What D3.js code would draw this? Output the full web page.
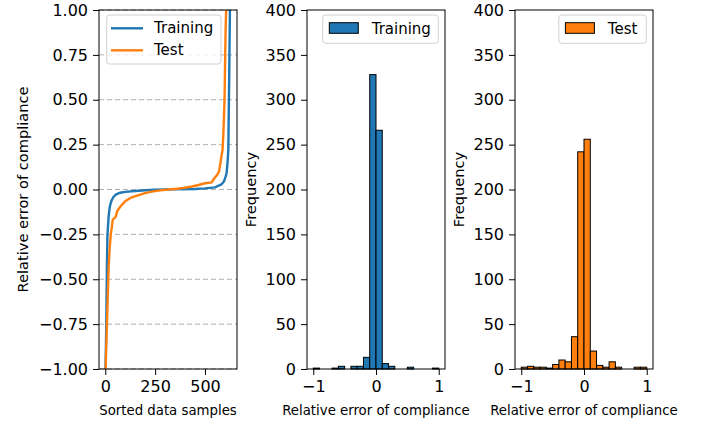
<!DOCTYPE html>
<html><head><meta charset="utf-8">
<script src="https://cdn.jsdelivr.net/npm/d3@7"></script>
<style>
body{margin:0;background:#fff;}
svg{display:block;font-family:"DejaVu Sans",sans-serif;}
</style></head>
<body><svg id="c" width="701" height="424"></svg>
<script>
// ---- data ----
const trainIdx = [0, 2, 5, 8, 11, 14, 17, 22, 27, 32, 37, 42, 55, 75, 100, 150, 200, 250, 350, 450, 500, 550, 583, 595, 603, 608, 613, 617, 620, 623, 625, 629];
const trainErr = [-1.05, -0.95, -0.76, -0.45, -0.25, -0.2, -0.15, -0.1, -0.077, -0.06, -0.05, -0.04, -0.027, -0.018, -0.013, -0.008, -0.004, -0.001, 0.001, 0.003, 0.006, 0.012, 0.029, 0.045, 0.07, 0.09, 0.15, 0.22, 0.5, 0.8, 1.0, 1.4];
const testIdx = [0, 2, 7, 12, 17, 22, 28, 33, 37, 53, 60, 75, 100, 130, 167, 200, 233, 275, 317, 360, 400, 435, 467, 500, 533, 545, 560, 570, 578, 583, 588, 592, 598, 603, 606, 607];
const testErr = [-1.05, -0.99, -0.8, -0.616, -0.43, -0.33, -0.244, -0.21, -0.17, -0.15, -0.12, -0.096, -0.065, -0.045, -0.031, -0.02, -0.012, -0.005, 0.0, 0.004, 0.01, 0.017, 0.025, 0.035, 0.04, 0.06, 0.08, 0.1, 0.15, 0.19, 0.22, 0.31, 0.5, 0.87, 1.0, 1.3];
const binStarts = [-1.0, -0.9, -0.8, -0.7, -0.6, -0.5, -0.4, -0.3, -0.2, -0.1, 0.0, 0.1, 0.2, 0.3, 0.4, 0.5, 0.6, 0.7, 0.8, 0.9];
const binWidth = 0.1;
const trainCounts = [1, 0, 0, 1, 3, 0, 3, 3, 13, 328, 266, 6, 3, 0, 0, 2, 0, 0, 0, 1];
const testCounts = [2, 3, 2, 2, 1, 5, 10, 8, 36, 242, 256, 20, 4, 2, 8, 2, 0, 0, 2, 2];
const lineTicksX = [0, 250, 500];
const lineTicksY = [-1, -0.75, -0.5, -0.25, 0, 0.25, 0.5, 0.75, 1];
const histTicksX = [-1, 0, 1];
const histTicksY = [0, 50, 100, 150, 200, 250, 300, 350, 400];
const seriesNames = ["Training", "Test"];
const colors = ["#1f77b4", "#ff7f0e"];

const svg = d3.select("#c");
const yTop = 10, yBot = 369;
const TICKF = "16px", LEGF = "15px", XLF = "13.3px", YLF = "14.6px";

function styleAxis(g){
  g.select(".domain").remove();
  g.selectAll(".tick line").attr("stroke","#000").attr("stroke-width",1);
  g.selectAll(".tick text").attr("fill","#000").style("font-size",TICKF).style("font-family","DejaVu Sans");
}
function frame(x0,x1){
  svg.append("rect").attr("x",x0).attr("y",yTop).attr("width",x1-x0).attr("height",yBot-yTop)
    .attr("fill","none").attr("stroke","#000").attr("stroke-width",1);
}

// ---- left panel ----
{
  const x0=99, x1=237;
  const x = d3.scaleLinear().domain([-31.45, 660.45]).range([x0,x1]);
  const y = d3.scaleLinear().domain([-1,1]).range([yBot,yTop]);
  svg.append("defs").append("clipPath").attr("id","clipL").append("rect")
    .attr("x",x0).attr("y",yTop).attr("width",x1-x0).attr("height",yBot-yTop);
  svg.append("g").selectAll("line").data(lineTicksY).join("line")
    .attr("x1",x0).attr("x2",x1).attr("y1",d=>y(d)).attr("y2",d=>y(d))
    .attr("stroke","#b0b0b0").attr("stroke-width",1).attr("stroke-dasharray","5,3");
  const line = d3.line().x(d=>x(d[0])).y(d=>y(d[1]));
  const tr = trainIdx.map((d,i)=>[d,trainErr[i]]);
  const te = testIdx.map((d,i)=>[d,testErr[i]]);
  const gl = svg.append("g").attr("clip-path","url(#clipL)");
  gl.append("path").datum(tr).attr("d",line).attr("fill","none").attr("stroke",colors[0]).attr("stroke-width",2.4);
  gl.append("path").datum(te).attr("d",line).attr("fill","none").attr("stroke",colors[1]).attr("stroke-width",2.4);
  frame(x0,x1);
  svg.append("g").attr("transform",`translate(0,${yBot})`)
    .call(d3.axisBottom(x).tickValues(lineTicksX).tickSize(6).tickPadding(6)).call(styleAxis);
  svg.append("g").attr("transform",`translate(${x0},0)`)
    .call(d3.axisLeft(y).tickValues(lineTicksY).tickFormat(d3.format(".2f")).tickSize(6).tickPadding(5)).call(styleAxis);
  svg.append("text").attr("x",(x0+x1)/2).attr("y",410).attr("text-anchor","middle").attr("dominant-baseline","central")
    .style("font-size",XLF).text("Sorted data samples");
  svg.append("text").attr("transform",`translate(22,${(yTop+yBot)/2}) rotate(-90)`).attr("text-anchor","middle")
    .attr("dominant-baseline","central").style("font-size",YLF).text("Relative error of compliance");
  const lg = svg.append("g");
  lg.append("rect").attr("x",106.7).attr("y",15).attr("width",114.3).attr("height",49).attr("rx",3)
    .attr("fill","#fff").attr("fill-opacity",0.8).attr("stroke","#d0d0d0");
  seriesNames.forEach((n,i)=>{
    const yy = 28.3 + i*22;
    lg.append("line").attr("x1",111).attr("x2",143).attr("y1",yy).attr("y2",yy).attr("stroke",colors[i]).attr("stroke-width",2.4);
    lg.append("text").attr("x",154).attr("y",yy).attr("dominant-baseline","central").style("font-size",LEGF).text(n);
  });
}

// ---- histogram panels ----
function hist(x0,x1,counts,color,name,legendW){
  const x = d3.scaleLinear().domain([-1.1,1.1]).range([x0,x1]);
  const y = d3.scaleLinear().domain([0,400]).range([yBot,yTop]);
  svg.append("g").selectAll("rect").data(binStarts).join("rect")
    .attr("x",d=>x(d)).attr("width",d=>x(d+binWidth)-x(d))
    .attr("y",(d,i)=>y(counts[i])).attr("height",(d,i)=>y(0)-y(counts[i]))
    .attr("fill",color).attr("stroke","#000").attr("stroke-width",1);
  frame(x0,x1);
  svg.append("g").attr("transform",`translate(0,${yBot})`)
    .call(d3.axisBottom(x).tickValues(histTicksX).tickFormat(d3.format("d")).tickSize(6).tickPadding(6)).call(styleAxis);
  svg.append("g").attr("transform",`translate(${x0},0)`)
    .call(d3.axisLeft(y).tickValues(histTicksY).tickSize(6).tickPadding(5)).call(styleAxis);
  svg.append("text").attr("x",(x0+x1)/2).attr("y",410).attr("text-anchor","middle").attr("dominant-baseline","central")
    .style("font-size",XLF).text("Relative error of compliance");
  svg.append("text").attr("transform",`translate(${x0-57},${(yTop+yBot)/2}) rotate(-90)`).attr("text-anchor","middle")
    .attr("dominant-baseline","central").style("font-size",YLF).text("Frequency");
  const lx = x1-6.7-legendW;
  const lg = svg.append("g");
  lg.append("rect").attr("x",lx).attr("y",15).attr("width",legendW).attr("height",28.3).attr("rx",3)
    .attr("fill","#fff").attr("fill-opacity",0.8).attr("stroke","#d0d0d0");
  lg.append("rect").attr("x",lx+6.6).attr("y",22.7).attr("width",29).attr("height",10.6)
    .attr("fill",color).attr("stroke","#000").attr("stroke-width",1);
  lg.append("text").attr("x",lx+49).attr("y",29).attr("dominant-baseline","central").style("font-size",LEGF).text(name);
}
hist(307,445,trainCounts,colors[0],seriesNames[0],115.6);
hist(515,653,testCounts,colors[1],seriesNames[1],87.5);
</script></body></html>
